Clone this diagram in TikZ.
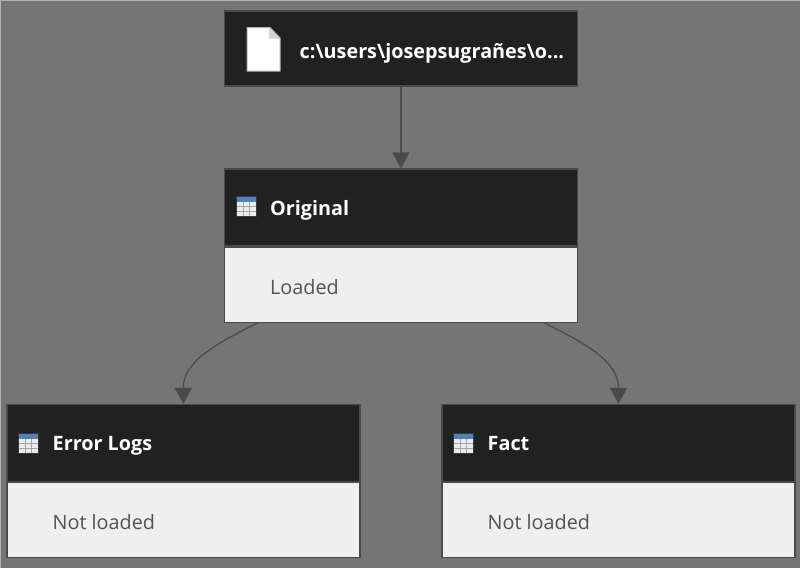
\documentclass[tikz,border=0pt]{standalone}
\usepackage{fontspec}
\setmainfont{Open Sans}
\usetikzlibrary{arrows.meta,positioning}
\definecolor{canvas}{HTML}{757575}
\definecolor{headdark}{HTML}{212121}
\definecolor{bodylight}{HTML}{EFEFEF}
\definecolor{edgegray}{HTML}{4A4A4A}
\definecolor{tableblue}{HTML}{4F81BD}
\tikzset{
  head/.style={draw=edgegray,line width=1.2pt,fill=headdark,minimum width=353pt,minimum height=77pt,inner sep=0pt},
  body/.style={draw=edgegray,line width=1.2pt,fill=bodylight,minimum width=353pt,minimum height=75pt,inner sep=0pt},
  title/.style={text=white,font=\fontsize{19.8}{24}\selectfont\bfseries,anchor=base west,inner sep=0pt},
  status/.style={text=black!68,font=\fontsize{19.8}{24}\selectfont,anchor=base west,inner sep=0pt},
  link/.style={draw=edgegray,line width=1.2pt,-{Triangle[length=16pt,width=17pt]}},
}
\newcommand{\tableicon}[2]{%small table glyph, top left corner at #1,#2
  \fill[gray!45!black] (#1-1,#2-1) rectangle (#1+20,#2+20);
  \fill[white!92!black] (#1,#2) rectangle (#1+19,#2+19);
  \fill[tableblue] (#1,#2) rectangle (#1+19,#2+5);
  \foreach \k in {1,2}{%
    \draw[gray!70,line width=.8pt] (#1+\k*19/3,#2+5) -- (#1+\k*19/3,#2+19);
    \draw[gray!70,line width=.8pt] (#1,#2+5+\k*14/3) -- (#1+19,#2+5+\k*14/3);
  }}
\begin{document}
\begin{tikzpicture}[x=1pt,y=-1pt]
  \useasboundingbox (0,0) rectangle (800,568);
  \fill[canvas] (0,0) rectangle (800,568);
  \draw[gray!60,line width=1pt] (0,568) -- (0,.5) -- (800,.5);
  % file box on top
  \node[head,minimum height=75pt] (File) at (401,48.5) {};
  % the three tables
  \node[head] (Original) at (401,207.5) {};
  \node[body,below=0pt of Original] (OriginalBody) {};
  \node[head] (Error) at (183.5,443) {};
  \node[body,below=0pt of Error] (ErrorBody) {};
  \node[head] (Fact) at (618.5,443) {};
  \node[body,below=0pt of Fact] (FactBody) {};
  % texts
  \node[title] (FileText) at (299.5,58) {c:\textbackslash users\textbackslash josepsugrañes\textbackslash o...};
  \node[title] (OriginalText) at (270,215.5) {Original};
  \node[status] (OriginalState) at (270,294.5) {Loaded};
  \node[title] (ErrorText) at (52.5,450.5) {Error Logs};
  \node[status] (ErrorState) at (52.5,529.5) {Not loaded};
  \node[title] (FactText) at (487.5,450.5) {Fact};
  \node[status] (FactState) at (487.5,529.5) {Not loaded};
  % icons
  \tableicon{237}{197}
  \tableicon{19}{434}
  \tableicon{454}{434}
  \draw[gray!60,fill=white,line width=1pt] (247,27.5) -- (270,27.5) -- (280,38) -- (280,71) -- (247,71) -- cycle;
  \fill[gray!35] (269,28) -- (269,38.5) -- (279.5,38.5) -- cycle;
  % links
  \coordinate (LeftOut) at ([xshift=-143pt]OriginalBody.south);
  \coordinate (RightOut) at ([xshift=143pt]OriginalBody.south);
  \draw[link] (File.south) -- (Original.north);
  \draw[link] (LeftOut) .. controls (215,344) and (183,362) .. (Error.north);
  \draw[link] (RightOut) .. controls (587,344) and (618.5,362) .. (Fact.north);
\end{tikzpicture}
\end{document}
